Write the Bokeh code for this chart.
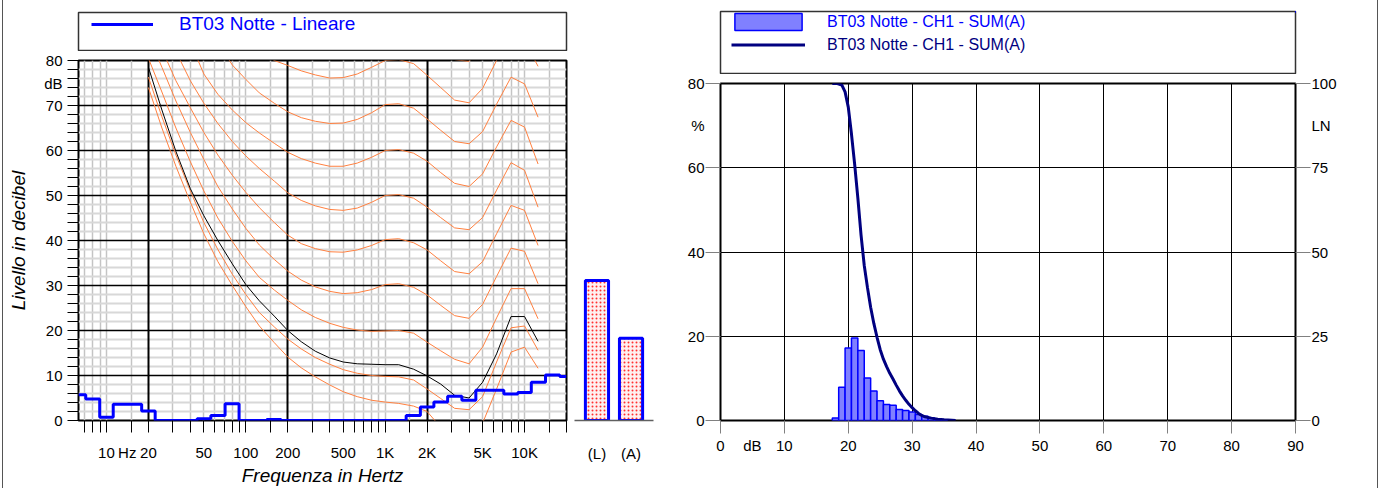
from bokeh.plotting import figure
from bokeh.models import (Range1d, FactorRange, FixedTicker, LinearAxis, Legend,
                          LegendItem, Grid, Div)
from bokeh.layouts import row, column
from bokeh.embed import file_html
from bokeh.resources import INLINE

FONT = "Liberation Sans"

# ---------------- left chart data ----------------
FREQ = [20, 25, 31.5, 40, 50, 63, 80, 100, 125, 160, 200, 250, 315, 400, 500, 630,
        800, 1000, 1250, 1600, 2000, 2500, 3150, 4000, 5000, 6300, 8000, 10000, 12500]

CURVE_T = [74, 65, 56.5, 48.5, 41.5, 35.3, 30, 25.3, 21, 17.3, 14.1, 11.7, 9.7, 7.9, 6.4, 5.3,
           4.5, 4.1, 3.8, 3.2, 2.0, -1.5, -4.0, -4.5, -0.6, 7.0, 15.2, 16.3, 11.6]
CURVE_10 = [76.3, 67.5, 59, 51, 44, 38, 32.5, 28, 24, 20.8, 18.1, 15.9, 14.0, 12.5, 11.3, 10.5,
            10.0, 9.8, 9.7, 9.0, 7.0, 4.9, 2.7, 2.4, 5.3, 13.0, 20.6, 21.0, 15.6]
CURVE_20 = [80.5, 73, 65, 57.5, 51, 45, 39.8, 35.5, 31.8, 29, 26.7, 24.6, 22.9, 21.6, 20.7, 20.1,
            19.8, 19.9, 20.0, 19.4, 17.4, 15.5, 13.6, 12.6, 16.3, 22.8, 29.3, 29.3, 22.6]
CURVE_30 = [85.5, 78.5, 71, 64, 58, 52, 47, 42.7, 39, 35.8, 33.2, 31.2, 29.7, 28.7, 28.2, 28.4,
            29.1, 30.2, 30.4, 29.6, 27.9, 25.6, 23.3, 22.7, 25.8, 32.0, 38.3, 37.6, 30.4]
CURVE_40 = [90.5, 82.5, 75.5, 69.5, 64, 59, 54.5, 50.7, 47.3, 44, 41.2, 39.3, 38.2, 37.5, 37.4, 37.9,
            38.9, 40.2, 40.4, 39.5, 37.9, 35.5, 33.1, 32.6, 35.3, 41.5, 47.8, 46.7, 38.9]
CURVE_50 = [96, 89.5, 82, 75.5, 70.5, 66, 62, 58.8, 56, 53.2, 50.6, 48.9, 47.7, 46.9, 46.7, 47.2,
            48.5, 50, 50.2, 49.4, 47.4, 45.1, 42.8, 42.4, 45.1, 51.2, 57.3, 55.6, 47.4]
CURVE_60 = [103, 97.5, 92, 84, 77, 72.5, 69, 66.2, 63.9, 61.6, 59.6, 58.2, 57.2, 56.5, 56.5, 57.2,
            58.5, 60, 60.2, 59.4, 57.6, 55.1, 52.7, 52, 54.8, 60.8, 66.7, 65.2, 57.0]
CURVE_70 = [110, 105, 100, 94, 88.5, 84, 79, 75.8, 72.8, 70.5, 68.6, 67.3, 66.5, 66, 66.1, 66.9,
            68.4, 70.2, 70.4, 69.4, 67.0, 64.5, 62.0, 61.5, 64.2, 70.3, 76.3, 74.8, 67.4]
CURVE_80 = [115, 111, 106, 101, 96, 92, 88, 85, 82.3, 80.0, 78.9, 77.7, 76.8, 76.1, 76.2, 77.0,
            78.5, 80, 80.2, 79.3, 76.7, 74.0, 71.2, 70.6, 73.8, 80.0, 86.0, 84.5, 78.7]
CURVE_90 = [120, 116, 112, 108, 104, 100, 97, 94.5, 92.3, 90.5, 89, 87.8, 86.9, 86.2, 86.2, 87,
            88.5, 90, 90.2, 89.3, 86.7, 83.5, 80.2, 79.8, 83.5, 89.5, 95.5, 94, 88]
THRESHOLD = [78.5, 69, 59.8, 51.5, 45.5, 40, 34.8, 30.2, 26.6, 23.2, 20, 17.5, 15.4, 13.9, 13.0, 12.6,
             12.5, 12.4, 12.4, 11.4, 9.9, 8.1, 5.6, 5.0, 8.5, 14.8, 23.1, 23.1, 17.6]

BANDS = [6.3, 8, 10, 12.5, 16, 20, 25, 31.5, 40, 50, 63, 80, 100, 125, 160, 200, 250, 315,
         400, 500, 630, 800, 1000, 1250, 1600, 2000, 2500, 3150, 4000, 5000, 6300, 8000,
         10000, 12500, 16000, 20000]
SPECTRUM = [5.7, 4.8, 0.7, 3.6, 3.6, 2.1, 0, 0, 0, 0.4, 1.1, 3.7, 0, 0, 0.2, 0, 0, 0,
            0, 0, 0, 0, 0, 0, 1.1, 3.0, 4.1, 5.4, 4.5, 6.7, 6.7, 5.9,
            6.2, 8.5, 10.1, 9.8]

X_LABELS = {10: "10", 14.1: "Hz", 20: "20", 50: "50", 100: "100", 200: "200", 500: "500",
            1000: "1K", 2000: "2K", 5000: "5K", 10000: "10K"}
X_MINOR = [7, 8, 9, 10, 15, 20, 30, 40, 50, 60, 70, 80, 90, 100, 150, 200, 300, 400, 500,
           600, 700, 800, 900, 1000, 1500, 2000, 3000, 4000, 5000, 6000, 7000, 8000, 9000,
           10000, 15000, 20000]
X_MAJOR_GRID = [20, 200, 2000]
Y_LABELS = {0: "0", 10: "10", 20: "20", 30: "30", 40: "40", 50: "50", 60: "60", 70: "70",
            80: "80", 75: "dB"}

TOTALS_CAT = ["(L)", "(A)"]
TOTALS_VAL = [31.1, 18.3]

# ---------------- right chart data ----------------
HIST_DB = [18, 19, 20, 21, 22, 23, 24, 25, 26, 27, 28, 29, 30, 31, 32, 33, 34, 35]
HIST_PCT = [0.6, 7.9, 17.2, 19.6, 16.6, 10.1, 7.0, 4.7, 3.8, 3.6, 2.6, 2.4, 2.0, 1.4, 1.0, 0.6, 0.4, 0.2]
LN_DB = [17.5, 18.3, 19.0, 19.5, 20.0, 20.5, 21.0, 21.5, 22.0, 22.5, 23.0, 23.5, 24.0, 24.5,
         25.0, 25.5, 26.0, 26.5, 27.0, 27.5, 28.0, 28.5, 29.0, 29.5, 30.0, 30.5, 31.0, 31.5,
         32.0, 33.0, 34.0, 35.0, 36.8]
LN_VAL = [100, 100, 99.5, 97.5, 93, 85, 76, 66, 55, 46, 39.5, 33.6, 28.8, 24.7,
          21, 18.2, 16, 14, 12.3, 10.5, 8.8, 7.3, 6, 4.8, 3.8, 2.9, 2.1, 1.5,
          1.1, 0.7, 0.4, 0.2, 0]
PCT_LABELS = {0: "0", 20: "20", 40: "40", 60: "60", 80: "80", 70: "%"}
LN_LABELS = {0: "0", 25: "25", 50: "50", 75: "75", 100: "100", 87.5: "LN"}
DB_LABELS = {0: "0", 5: "dB", 10: "10", 20: "20", 30: "30", 40: "40", 50: "50", 60: "60",
             70: "70", 80: "80", 90: "90"}

LEGEND_LEFT = "BT03 Notte - Lineare"
LEGEND_HIST = "BT03 Notte - CH1 - SUM(A)"
LEGEND_LN = "BT03 Notte - CH1 - SUM(A)"

ORANGE = "#FF8040"
BLUE = "#0000FF"
NAVY = "#000080"
HIST_FILL = "#8080ff"
H = 488
BOTTOM = 68


def style_labels(ax, size="15px"):
    ax.major_label_text_font = FONT
    ax.major_label_text_font_size = size
    ax.major_label_text_color = "black"


def style_title(ax, text, standoff):
    ax.axis_label = text
    ax.axis_label_text_font = FONT
    ax.axis_label_text_font_style = "italic"
    ax.axis_label_text_font_size = "19px"
    ax.axis_label_text_color = "black"
    ax.axis_label_standoff = standoff


def legend_panel(width, height, left, right, top, bottom):
    # a small frame that acts as the legend box; its ranges keep the sample data out of view
    f = figure(width=width, height=height, x_range=Range1d(0, 1), y_range=Range1d(-1, 0),
               output_backend="svg", toolbar_location=None, x_axis_location=None,
               y_axis_location=None, min_border_left=left, min_border_right=right,
               min_border_top=top, min_border_bottom=bottom)
    f.xgrid.visible = False
    f.ygrid.visible = False
    f.background_fill_color = "white"
    f.border_fill_color = "white"
    f.outline_line_color = "#333333"
    f.outline_line_width = 1.5
    return f


def plain_legend(item, loc, gw, gh, standoff, size, color):
    return Legend(items=[item], location=loc, margin=0, padding=0, spacing=0,
                  glyph_width=gw, glyph_height=gh, label_height=gh, label_standoff=standoff,
                  border_line_alpha=0, background_fill_alpha=0, label_text_font=FONT,
                  label_text_font_size=size, label_text_color=color)


# =============== left legend panel ===============
lg1 = legend_panel(567, 51, 75, 4, 12, 1)
sample_spec = lg1.step(BANDS, SPECTRUM, mode="center", line_color=BLUE, line_width=3)
lg1.add_layout(plain_legend(LegendItem(label=LEGEND_LEFT, renderers=[sample_spec]),
                            (13, 15), 62, 20, 26, "19px", BLUE))

# =============== left figure ===============
p1 = figure(width=567, height=H - 51, x_axis_type="log", x_range=Range1d(6.3, 20000),
            y_range=Range1d(0, 80), output_backend="svg", toolbar_location=None,
            min_border_left=75, min_border_right=4, min_border_top=9, min_border_bottom=BOTTOM)
p1.background_fill_color = "white"
p1.border_fill_color = "white"
p1.outline_line_color = "black"
p1.outline_line_width = 2
p1.outline_line_alpha = 1

xa = p1.xaxis[0]
xa.ticker = FixedTicker(ticks=list(X_LABELS.keys()), minor_ticks=X_MINOR)
xa.major_label_overrides = X_LABELS
xa.major_tick_out = 0
xa.major_tick_in = 0
xa.minor_tick_out = 12
xa.minor_tick_in = 0
xa.minor_tick_line_color = "black"
xa.axis_line_color = None
xa.major_label_standoff = 11
style_labels(xa)
style_title(xa, "Frequenza in Hertz", 1)

ya = p1.yaxis[0]
ya.ticker = FixedTicker(ticks=list(Y_LABELS.keys()), minor_ticks=list(range(0, 81, 2)))
ya.major_label_overrides = Y_LABELS
ya.major_tick_out = 0
ya.major_tick_in = 0
ya.minor_tick_out = 11
ya.minor_tick_in = 0
ya.minor_tick_line_color = "black"
ya.axis_line_color = None
ya.major_label_standoff = 5
style_labels(ya)
style_title(ya, "Livello in decibel", 12)

# minor grids first, major grids on top
p1.xgrid.ticker = FixedTicker(ticks=[], minor_ticks=[t for t in X_MINOR if t not in (20, 200, 2000, 20000)])
p1.xgrid.grid_line_color = None
p1.xgrid.minor_grid_line_color = "#c4c4c4"
p1.xgrid.minor_grid_line_width = 1.5
p1.ygrid.ticker = FixedTicker(ticks=[], minor_ticks=[v for v in range(2, 80, 2) if v % 10])
p1.ygrid.grid_line_color = None
p1.ygrid.minor_grid_line_color = "#d8d8d8"
p1.ygrid.minor_grid_line_width = 2
p1.add_layout(Grid(dimension=0, ticker=FixedTicker(ticks=X_MAJOR_GRID),
                   grid_line_color="black", grid_line_width=2))
p1.add_layout(Grid(dimension=1, ticker=FixedTicker(ticks=[10, 20, 30, 40, 50, 60, 70]),
                   grid_line_color="black", grid_line_width=1.5))

for curve in [CURVE_T, CURVE_10, CURVE_20, CURVE_30, CURVE_40, CURVE_50, CURVE_60,
              CURVE_70, CURVE_80, CURVE_90]:
    p1.line(FREQ, curve, line_color=ORANGE, line_width=1)
p1.line(FREQ, THRESHOLD, line_color="black", line_width=1)
p1.step(BANDS, SPECTRUM, mode="center", line_color=BLUE, line_width=3)

# =============== totals (bars) ===============
pb = figure(width=90, height=H, x_range=FactorRange(factors=TOTALS_CAT, range_padding=0.16,
                                                    range_padding_units="absolute"),
            y_range=Range1d(0, 80), output_backend="svg", toolbar_location=None,
            y_axis_location=None, min_border_left=4, min_border_right=7,
            min_border_top=60, min_border_bottom=BOTTOM)
pb.outline_line_color = None
pb.background_fill_color = "white"
pb.border_fill_color = "white"
pb.xgrid.visible = False
pb.ygrid.visible = False
pb.vbar(x=TOTALS_CAT, top=TOTALS_VAL, width=0.68, fill_color="#fff0f0",
        hatch_pattern="dot", hatch_color="#ff3030", hatch_scale=4, hatch_weight=1,
        line_color=BLUE, line_width=3)
bx = pb.xaxis[0]
bx.major_tick_out = 0
bx.major_tick_in = 0
bx.axis_line_color = "#606060"
bx.axis_line_width = 1.5
bx.major_label_standoff = 24
style_labels(bx)

# =============== right legend panel ===============
lg2 = legend_panel(717, 74, 60, 82, 11, 1)
sample_hist = lg2.vbar(x=HIST_DB, top=HIST_PCT, width=1.0, fill_color=HIST_FILL,
                       line_color=BLUE, line_width=1.5)
sample_ln = lg2.line(LN_DB, LN_VAL, line_color=NAVY, line_width=3)
lg2.add_layout(plain_legend(LegendItem(label=LEGEND_HIST, renderers=[sample_hist]),
                            (6, 41), 84, 21, 17, "16px", BLUE))
lg2.add_layout(plain_legend(LegendItem(label=LEGEND_LN, renderers=[sample_ln]),
                            (11, 19), 74, 19, 22, "16px", NAVY))

# =============== right figure ===============
p2 = figure(width=717, height=H - 74, x_range=Range1d(0, 90), y_range=Range1d(0, 80),
            output_backend="svg", toolbar_location=None,
            min_border_left=60, min_border_right=82, min_border_top=9, min_border_bottom=BOTTOM)
p2.background_fill_color = "white"
p2.border_fill_color = "white"
p2.outline_line_color = "black"
p2.outline_line_width = 2
p2.extra_y_ranges = {"ln": Range1d(0, 100)}

x2 = p2.xaxis[0]
x2.ticker = FixedTicker(ticks=list(DB_LABELS.keys()), minor_ticks=list(range(0, 91, 10)))
x2.major_label_overrides = DB_LABELS
x2.major_tick_out = 0
x2.major_tick_in = 0
x2.minor_tick_out = 13
x2.minor_tick_in = 0
x2.minor_tick_line_color = "#808080"
x2.axis_line_color = None
x2.major_label_standoff = 3
style_labels(x2)

y2 = p2.yaxis[0]
y2.ticker = FixedTicker(ticks=list(PCT_LABELS.keys()), minor_ticks=[0, 20, 40, 60, 80])
y2.major_label_overrides = PCT_LABELS
y2.major_tick_out = 0
y2.major_tick_in = 0
y2.minor_tick_out = 15
y2.minor_tick_in = 0
y2.minor_tick_line_color = "#808080"
y2.axis_line_color = None
y2.major_label_standoff = 1
style_labels(y2)

yr = LinearAxis(y_range_name="ln", ticker=FixedTicker(ticks=list(LN_LABELS.keys()),
                                                      minor_ticks=[0, 25, 50, 75, 100]))
yr.major_label_overrides = LN_LABELS
yr.major_tick_out = 0
yr.major_tick_in = 0
yr.minor_tick_out = 15
yr.minor_tick_in = 0
yr.minor_tick_line_color = "#808080"
yr.axis_line_color = None
yr.major_label_standoff = 1
style_labels(yr)
p2.add_layout(yr, "right")

p2.xgrid.ticker = FixedTicker(ticks=list(range(10, 90, 10)))
p2.xgrid.grid_line_color = "black"
p2.xgrid.grid_line_width = 1
p2.ygrid.ticker = FixedTicker(ticks=[20, 40, 60])
p2.ygrid.grid_line_color = "black"
p2.ygrid.grid_line_width = 1

p2.vbar(x=HIST_DB, top=HIST_PCT, width=1.0, fill_color=HIST_FILL, line_color=BLUE, line_width=1.5)
p2.line(LN_DB, LN_VAL, y_range_name="ln", line_color=NAVY, line_width=3)

# thin page frame lines at the left and right edges
edge_l = Div(text="", width=3, height=H, margin=0,
             styles={"border-right": "1px solid #555555", "box-sizing": "border-box"})
edge_r = Div(text="", width=2, height=H, margin=0,
             styles={"border-left": "1px solid #555555", "box-sizing": "border-box"})

layout = row(edge_l, column(lg1, p1), column(pb), column(lg2, p2), edge_r)
open("out.html", "w").write(file_html(layout, INLINE))
